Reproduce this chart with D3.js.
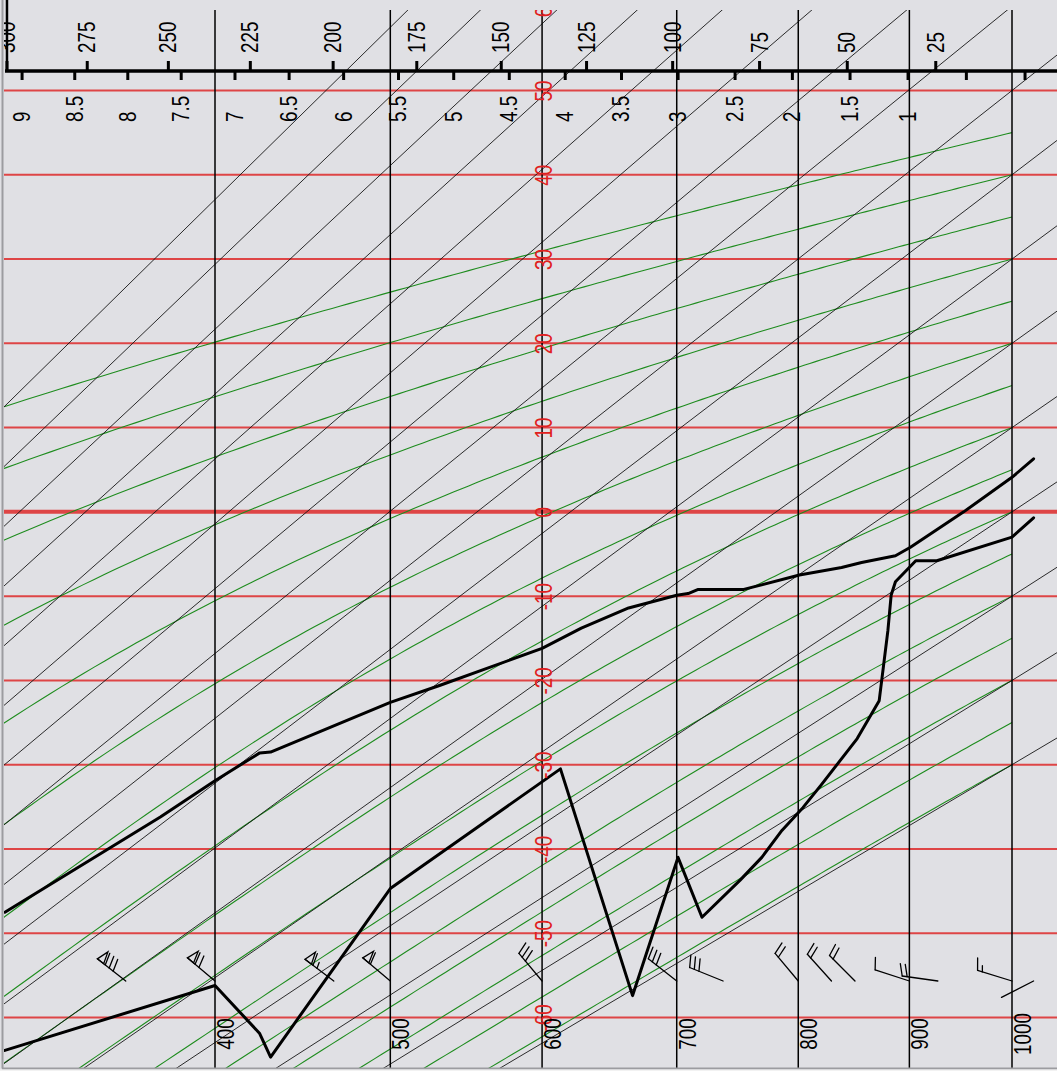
<!DOCTYPE html>
<html>
<head>
<meta charset="utf-8">
<script src="https://cdn.jsdelivr.net/npm/d3@7"></script>
<style>
  html, body { margin: 0; padding: 0; background: #e0e0e4; overflow: hidden; }
  svg { display: block; }
</style>
</head>
<body>
<svg id="chart" width="1057" height="1071"></svg>
<script>
// ---- Sounding: air temperature (°C) by pressure (hPa)
const tempP = [1022, 1000, 952, 901, 887, 856, 838, 801, 754, 717, 709, 700, 663, 628, 600, 531, 500, 430, 424, 400, 372, 300];
const tempT = [6.3, 4.1, 0.0, -4.2, -5.2, -6.0, -6.6, -7.5, -9.2, -9.2, -9.7, -9.9, -11.4, -13.8, -16.2, -20.6, -22.6, -28.5, -28.6, -31.9, -36.2, -47.5];

// ---- Sounding: dew point (°C) by pressure (hPa)
const dewP = [1022, 1000, 926, 906, 887, 883, 880, 872, 852, 820, 804, 786, 769, 751, 720, 701, 666, 613, 500, 430, 424, 400, 300];
const dewT = [-0.7, -3.0, -5.8, -5.8, -8.3, -9.9, -14.1, -22.4, -26.9, -32.4, -35.1, -37.8, -41.0, -43.7, -48.1, -41.0, -57.4, -30.5, -44.7, -64.7, -61.9, -56.2, -63.9];

// ---- Winds: level (hPa), direction (deg), speed (kt)
const windP   = [355, 400, 466, 500, 600, 700, 737, 800, 829, 850, 900, 927, 1000, 1022];
const windDir = [38, 40, 37, 40, 50, 38, 22, 50, 48, 45, 18, 8, 17, 333];
const windSpd = [80, 70, 65, 60, 30, 30, 30, 20, 20, 20, 10, 20, 15, 0];

// ---- Diagram grid
const isobars    = [400, 500, 600, 700, 800, 900, 1000];
const isotherms  = [60, 50, 40, 30, 20, 10, 0, -10, -20, -30, -40, -50, -60];
const dryThetaC  = [-30, -20, -10, 0, 10, 20, 30, 40, 50, 60, 70, 80, 90, 100, 110, 120, 130];
const moistThetaW = [-30, -25, -20, -15, -10, -5, 0, 5, 10, 15, 20, 25, 30, 35, 40, 45];

// ---- Height axis ticks: flight levels and kilometres
const flTicks = [300, 275, 250, 225, 200, 175, 150, 125, 100, 75, 50, 25];
const kmTicks = [9, 8.5, 8, 7.5, 7, 6.5, 6, 5.5, 5, 4.5, 4, 3.5, 3, 2.5, 2, 1.5, 1, 0.5, 0];
const kmLabelMin = 1;

const W = 1057, H = 1071;
const KAPPA = 0.286;

const svg = d3.select('#chart');
const x = d3.scalePow().exponent(KAPPA).domain([400, 1000]).range([215, 1012]);
const y = d3.scaleLinear().domain([50, -60]).range([90.5, 1017.5]);

// standard atmosphere: height (m) -> pressure (hPa)
const stdP = h => 1013.25 * Math.pow(1 - 2.25577e-5 * h, 5.25588);

svg.append('rect').attr('width', W).attr('height', H).attr('fill', '#e0e0e4');

const defs = svg.append('defs');
defs.append('clipPath').attr('id', 'plot')
  .append('rect').attr('x', 4).attr('y', 10).attr('width', W - 4).attr('height', 1058);
defs.append('clipPath').attr('id', 'frame')
  .append('rect').attr('x', 4).attr('y', 0).attr('width', W - 4).attr('height', 1068);

const plot = svg.append('g').attr('clip-path', 'url(#plot)');
const line = d3.line().x(d => x(d[0])).y(d => y(d[1]));

// isotherms
plot.append('g').selectAll('line').data(isotherms).join('line')
  .attr('x1', 0).attr('x2', W)
  .attr('y1', d => y(d)).attr('y2', d => y(d))
  .attr('stroke', '#de3434')
  .attr('stroke-opacity', 0.9)
  .attr('stroke-width', d => d === 0 ? 4 : 2);

// saturated (pseudo) adiabats, integrated from 1000 hPa upward
function satVap(tc) { return 6.112 * Math.exp(17.67 * tc / (tc + 243.5)); }
function moistRate(p, tk) {
  const tc = tk - 273.15;
  const rs = 0.622 * satVap(tc) / p;
  const Lv = 2.501e6 - 2370 * tc, Rd = 287.04, cp = 1005.7;
  return (Rd * tk + Lv * rs) / (cp + Lv * Lv * rs * 0.622 / (Rd * tk * tk)) / p;
}
function moistPath(twC) {
  let tk = twC + 273.15, p = 1000;
  const pts = [[p, twC]];
  const h = -5;
  while (p > 296) {
    const k1 = moistRate(p, tk);
    const k2 = moistRate(p + h / 2, tk + h / 2 * k1);
    const k3 = moistRate(p + h / 2, tk + h / 2 * k2);
    const k4 = moistRate(p + h, tk + h * k3);
    tk += h / 6 * (k1 + 2 * k2 + 2 * k3 + k4);
    p += h;
    pts.push([p, tk - 273.15]);
  }
  return pts;
}
plot.append('g').selectAll('path').data(moistThetaW).join('path')
  .attr('d', d => line(moistPath(d)))
  .attr('fill', 'none').attr('stroke', '#1e8c1e').attr('stroke-width', 1.1);

// dry adiabats (straight in p^kappa coordinates)
plot.append('g').selectAll('path').data(dryThetaC).join('path')
  .attr('d', th => line([296, 1070].map(p => [p, (th + 273.15) * Math.pow(p / 1000, KAPPA) - 273.15])))
  .attr('fill', 'none').attr('stroke', '#151515').attr('stroke-width', 0.9);

// isobars
plot.append('g').selectAll('line').data(isobars).join('line')
  .attr('x1', d => x(d)).attr('x2', d => x(d))
  .attr('y1', 0).attr('y2', H)
  .attr('stroke', '#000').attr('stroke-width', 1.5);

// temperature and dew point traces
const traces = plot.append('g').attr('fill', 'none').attr('stroke', '#000')
  .attr('stroke-width', 3).attr('stroke-linejoin', 'round').attr('stroke-linecap', 'round');
traces.append('path').attr('d', line(d3.zip(tempP, tempT)));
traces.append('path').attr('d', line(d3.zip(dewP, dewT)));

// wind barbs
const barbs = plot.append('g').attr('stroke', '#000').attr('stroke-width', 1.3)
  .attr('fill', 'none').attr('stroke-linecap', 'round');
const barbY = 981;
windP.forEach((p, i) => {
  const r = windDir[i] * Math.PI / 180;
  const s = [-Math.cos(r), -Math.sin(r)];
  const f = [-s[1], s[0]];
  const bx = x(p), by = barbY, L = 36, fl = 12, lean = 0.3;
  const at = d => [bx + s[0] * d, by + s[1] * d];
  const tip = at(L);
  barbs.append('line').attr('x1', bx).attr('y1', by).attr('x2', tip[0]).attr('y2', tip[1]);
  let spd = windSpd[i], d = L;
  const n50 = Math.floor(spd / 50); spd -= n50 * 50;
  const n10 = Math.floor(spd / 10); spd -= n10 * 10;
  const n5 = spd >= 5 ? 1 : 0;
  for (let k = 0; k < n50; k++) {
    const a = at(d), b = at(d - 8), c = at(d - 4);
    const apex = [c[0] + f[0] * fl, c[1] + f[1] * fl];
    barbs.append('path').attr('d', `M${a[0]},${a[1]}L${apex[0]},${apex[1]}L${b[0]},${b[1]}Z`);
    d -= 10;
  }
  const feather = len => {
    const a = at(d);
    const e = [a[0] + (f[0] + s[0] * lean) * len, a[1] + (f[1] + s[1] * lean) * len];
    barbs.append('line').attr('x1', a[0]).attr('y1', a[1]).attr('x2', e[0]).attr('y2', e[1]);
    d -= 5;
  };
  for (let k = 0; k < n10; k++) feather(fl);
  if (n5) feather(fl / 2);
});

// ---- labels and height axis (drawn inside the panel frame)
const overlay = svg.append('g').attr('clip-path', 'url(#frame)');
const font = '"Liberation Sans", Arial, sans-serif';
const vText = (g, tx, ty, txt, anchor, color) => g.append('text')
  .attr('transform', `translate(${tx},${ty}) rotate(-90) scale(0.82,1)`)
  .attr('text-anchor', anchor)
  .attr('font-family', font).attr('font-size', 23)
  .attr('fill', color).text(txt);

// isotherm labels along the 600 hPa line
const tLab = overlay.append('g').attr('clip-path', 'url(#plot)');
isotherms.forEach(t => vText(tLab, x(600) + 10, y(t) + 0.5, String(t), 'middle', '#e02020'));

// isobar labels
isobars.forEach(p => vText(overlay, x(p) + 19, 1034, String(p), 'middle', '#000'));

// height axis
const axisY = 71;
overlay.append('line').attr('x1', 5).attr('x2', W).attr('y1', axisY).attr('y2', axisY)
  .attr('stroke', '#000').attr('stroke-width', 3.5);
const flX = fl => x(stdP(fl * 100 * 0.3048));
const kmX = km => x(stdP(km * 1000));
overlay.append('line').attr('x1', flX(flTicks[0])).attr('x2', flX(flTicks[0]))
  .attr('y1', 0).attr('y2', axisY).attr('stroke', '#000').attr('stroke-width', 2.5);
flTicks.forEach(fl => {
  const tx = flX(fl);
  overlay.append('line').attr('x1', tx).attr('x2', tx).attr('y1', axisY - 10).attr('y2', axisY)
    .attr('stroke', '#000').attr('stroke-width', 3);
  vText(overlay, tx + 8, 53, String(fl), 'start', '#000');
});
kmTicks.forEach(km => {
  const tx = kmX(km);
  overlay.append('line').attr('x1', tx).attr('x2', tx).attr('y1', axisY).attr('y2', axisY + 9)
    .attr('stroke', '#000').attr('stroke-width', 3);
  if (km >= kmLabelMin) vText(overlay, tx + 8, 122, String(km), 'start', '#000');
});

// panel edges
svg.append('line').attr('x1', 2.5).attr('x2', 2.5).attr('y1', 0).attr('y2', 1068.5)
  .attr('stroke', '#9c9ca0').attr('stroke-width', 2);
svg.append('line').attr('x1', 2).attr('x2', W).attr('y1', 1068.5).attr('y2', 1068.5)
  .attr('stroke', '#9c9ca0').attr('stroke-width', 2);
svg.append('rect').attr('x', 0).attr('y', 1069.5).attr('width', W).attr('height', 2).attr('fill', '#f2f2f2');
</script>
</body>
</html>
